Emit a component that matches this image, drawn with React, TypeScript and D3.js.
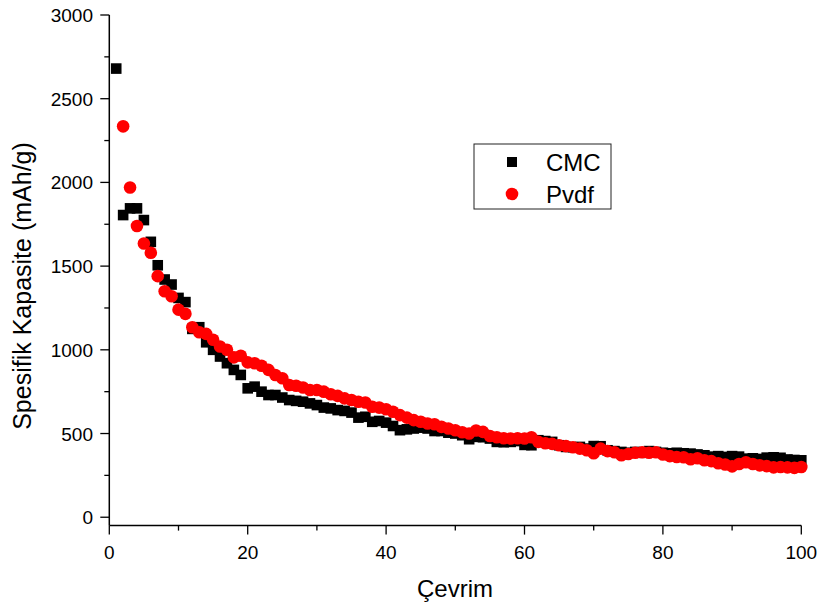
import React, { useRef, useEffect } from 'react';
import * as d3 from 'd3';

// cycles and measured specific capacity (mAh/g)
const cmcCycles = d3.range(1, 101);
const cmcValues = [
  2680, 1805, 1845, 1845, 1775, 1645, 1505, 1420, 1390, 1310,
  1285, 1125, 1135, 1045, 1000, 960, 920, 880, 850, 770,
  780, 750, 730, 730, 715, 700, 695, 690, 680, 670,
  655, 650, 640, 635, 625, 595, 600, 570, 575, 565,
  545, 520, 525, 530, 535, 530, 515, 515, 505, 500,
  490, 466, 480, 478, 470, 450, 448, 450, 455, 432,
  430, 460, 455, 450, 430, 420, 418, 420, 410, 425,
  424, 400, 395, 390, 385, 390, 385, 395, 390, 385,
  382, 385, 382, 380, 375, 370, 362, 365, 360, 365,
  362, 350, 352, 348, 356, 358, 355, 345, 342, 340,
];

const pvdfCycles = d3.range(2, 101);
const pvdfValues = [
  2335, 1970, 1740, 1635, 1580, 1440, 1350, 1320, 1240,
  1215, 1135, 1105, 1095, 1060, 1020, 1000, 955, 965, 925,
  920, 905, 880, 850, 830, 790, 785, 775, 760, 760,
  750, 735, 725, 710, 700, 690, 685, 660, 655, 645,
  630, 610, 595, 580, 570, 560, 555, 540, 530, 520,
  508, 500, 518, 510, 485, 478, 472, 470, 472, 470,
  478, 450, 442, 438, 430, 425, 418, 410, 400, 382,
  410, 395, 388, 370, 378, 385, 388, 385, 388, 375,
  365, 360, 358, 346, 352, 340, 335, 322, 315, 304,
  318, 328, 318, 310, 305, 298, 300, 298, 295, 300,
];

const xTicks = [0, 20, 40, 60, 80, 100];
const yTicks = [0, 500, 1000, 1500, 2000, 2500, 3000];
const seriesNames = ['CMC', 'Pvdf'];

const FONT = '"Liberation Sans", Arial, sans-serif';

const App = () => {
  const ref = useRef<SVGSVGElement>(null);

  useEffect(() => {
    const svg = d3.select(ref.current);
    svg.selectAll('*').remove();

    const x = d3.scaleLinear().domain([0, 100]).range([109.3, 801.3]);
    const y = d3.scaleLinear().domain([-50, 3000]).range([525.6, 15]);

    const g = svg.append('g');

    // markers: squares first, circles on top
    g.selectAll('rect.cmc')
      .data(cmcValues)
      .enter()
      .append('rect')
      .attr('class', 'cmc')
      .attr('x', (d, i) => x(cmcCycles[i]) - 5.3)
      .attr('y', d => y(d) - 5.3)
      .attr('width', 10.6)
      .attr('height', 10.6)
      .attr('fill', '#000');

    g.selectAll('circle.pvdf')
      .data(pvdfValues)
      .enter()
      .append('circle')
      .attr('class', 'pvdf')
      .attr('cx', (d, i) => x(pvdfCycles[i]))
      .attr('cy', d => y(d))
      .attr('r', 6.3)
      .attr('fill', '#ff0000');

    // axes
    const axisColor = '#000';
    g.append('line')
      .attr('x1', x(0)).attr('x2', x(100))
      .attr('y1', y(-50)).attr('y2', y(-50))
      .attr('stroke', axisColor).attr('stroke-width', 1.5);
    g.append('line')
      .attr('x1', x(0)).attr('x2', x(0))
      .attr('y1', y(-50)).attr('y2', y(3000))
      .attr('stroke', axisColor).attr('stroke-width', 1.5);

    const xMinor = d3.range(0, 101, 10);
    g.selectAll('line.xt')
      .data(xMinor)
      .enter()
      .append('line')
      .attr('x1', d => x(d)).attr('x2', d => x(d))
      .attr('y1', y(-50))
      .attr('y2', d => y(-50) + (d % 20 === 0 ? 9 : 5))
      .attr('stroke', axisColor).attr('stroke-width', 1.3);

    const yMinor = d3.range(0, 3001, 250);
    g.selectAll('line.yt')
      .data(yMinor)
      .enter()
      .append('line')
      .attr('y1', d => y(d)).attr('y2', d => y(d))
      .attr('x1', x(0))
      .attr('x2', d => x(0) - (d % 500 === 0 ? 9 : 5))
      .attr('stroke', axisColor).attr('stroke-width', 1.3);

    g.selectAll('text.xl')
      .data(xTicks)
      .enter()
      .append('text')
      .attr('x', d => x(d))
      .attr('y', 559)
      .attr('text-anchor', 'middle')
      .attr('font-family', FONT)
      .attr('font-size', 19)
      .text(d => d);

    g.selectAll('text.yl')
      .data(yTicks)
      .enter()
      .append('text')
      .attr('x', 93)
      .attr('y', d => y(d) + 7)
      .attr('text-anchor', 'end')
      .attr('font-family', FONT)
      .attr('font-size', 19)
      .text(d => d);

    g.append('text')
      .attr('x', 455)
      .attr('y', 597)
      .attr('text-anchor', 'middle')
      .attr('font-family', FONT)
      .attr('font-size', 24)
      .text('Çevrim');

    g.append('text')
      .attr('transform', 'translate(31,286) rotate(-90)')
      .attr('text-anchor', 'middle')
      .attr('font-family', FONT)
      .attr('font-size', 25)
      .text('Spesifik Kapasite (mAh/g)');

    // legend
    const lg = g.append('g');
    lg.append('rect')
      .attr('x', 474).attr('y', 144)
      .attr('width', 137).attr('height', 65)
      .attr('fill', '#fff')
      .attr('stroke', '#222').attr('stroke-width', 1);
    lg.append('rect')
      .attr('x', 507).attr('y', 157)
      .attr('width', 10).attr('height', 10)
      .attr('fill', '#000');
    lg.append('circle')
      .attr('cx', 512).attr('cy', 194)
      .attr('r', 6.3)
      .attr('fill', '#ff0000');
    lg.selectAll('text')
      .data(seriesNames)
      .enter()
      .append('text')
      .attr('x', 546)
      .attr('y', (d, i) => 171 + i * 32)
      .attr('font-family', FONT)
      .attr('font-size', 24)
      .text(d => d);
  }, []);

  return (
    <svg
      ref={ref}
      width={819}
      height={607}
      style={{ position: 'absolute', left: 0, top: 0, background: '#fff', display: 'block' }}
    />
  );
};

export default App;
